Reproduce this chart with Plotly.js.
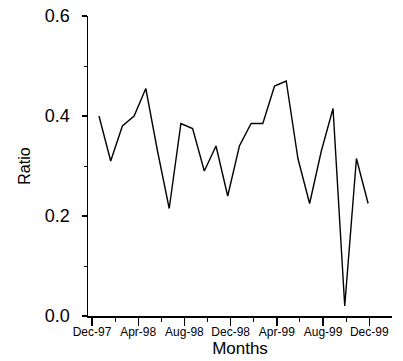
<!DOCTYPE html>
<html><head><meta charset="utf-8">
<script src="https://cdn.plot.ly/plotly-3.0.1.min.js"></script>
<style>body{margin:0;background:#fff}#c{width:403px;height:361px}</style>
</head><body><div id="c"></div>
<script>
const monthIndex = [1,2,3,4,5,6,7,8,9,10,11,12,13,14,15,16,17,18,19,20,21,22,23,24];
const ratio = [0.400,0.310,0.380,0.400,0.455,0.330,0.215,0.385,0.375,0.290,0.340,0.240,0.340,0.385,0.385,0.460,0.470,0.315,0.225,0.330,0.415,0.020,0.315,0.225];
const tickLabels = ["Dec-97","Apr-98","Aug-98","Dec-98","Apr-99","Aug-99","Dec-99"];
const tickPos = [0.4,4.35,8.3,12.25,16.2,20.15,24.1];
const minorPos = [2.375,6.325,10.275,14.225,18.175,22.125];

Plotly.newPlot('c',[{
  x: monthIndex, y: ratio, type:'scatter', mode:'lines',
  line:{color:'#000',width:1.4}
}],{
  width:403,height:361,
  margin:{l:88,r:11,t:16,b:45},
  paper_bgcolor:'#fff',plot_bgcolor:'#fff',
  showlegend:false,
  font:{family:'Liberation Sans, Arial, sans-serif',color:'#000'},
  xaxis:{
    range:[0.06,26.04],showgrid:false,zeroline:false,
    showline:true,linecolor:'#000',linewidth:1.5,
    tickmode:'array',tickvals:tickPos,ticktext:tickLabels,
    ticks:'outside',ticklen:8,tickwidth:1.3,tickcolor:'#000',
    tickfont:{size:12},ticklabelstandoff:-4,
    minor:{tickmode:'array',tickvals:minorPos,ticks:'outside',ticklen:4,tickwidth:1,tickcolor:'#000'},
    title:{text:'Months',font:{size:17},standoff:0}
  },
  yaxis:{
    range:[0,0.6],showgrid:false,zeroline:false,
    showline:true,linecolor:'#000',linewidth:1.5,
    tickmode:'array',tickvals:[0,0.2,0.4,0.6],ticktext:['0.0','0.2','0.4','0.6'],
    ticks:'outside',ticklen:5,tickwidth:1.3,tickcolor:'#000',
    tickfont:{size:18},ticklabelstandoff:8,
    minor:{tickmode:'array',tickvals:[0.1,0.3,0.5],ticks:'outside',ticklen:3,tickwidth:1,tickcolor:'#000'},
    title:{text:'Ratio',font:{size:16},standoff:10}
  }
},{displayModeBar:false,staticPlot:true});
</script></body></html>
